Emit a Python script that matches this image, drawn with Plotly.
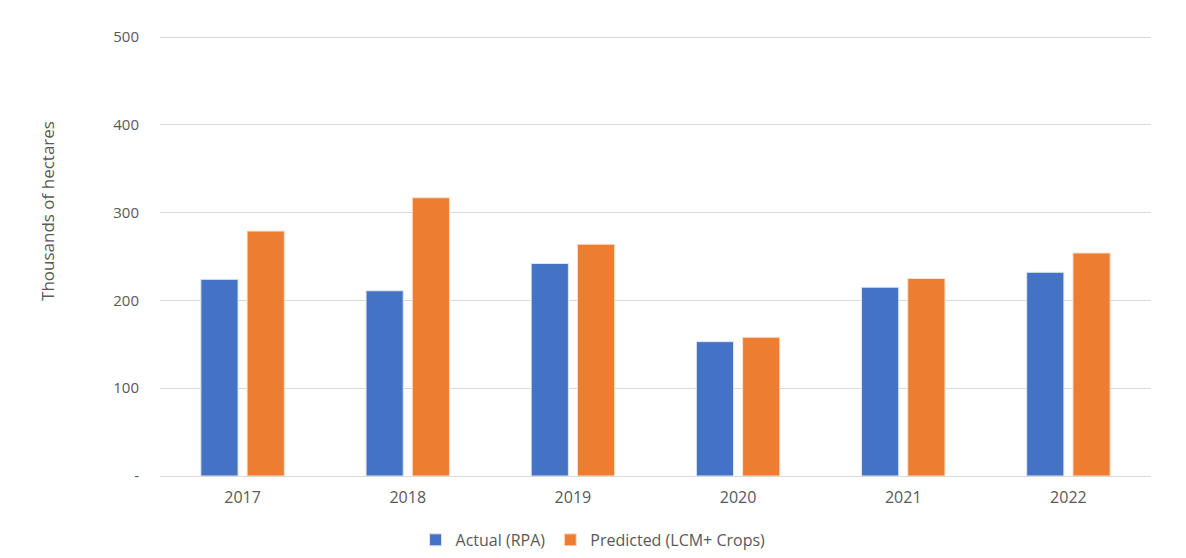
import plotly.graph_objects as go

years = ["2017", "2018", "2019", "2020", "2021", "2022"]
actual = [224, 211, 242, 153, 215, 232]
predicted = [279, 317, 264, 158, 225, 254]
ytick_vals = [0, 100, 200, 300, 400, 500]
ytick_text = ["-", "100", "200", "300", "400", "500"]

FAM = "Open Sans, Liberation Sans, sans-serif"
GREY = "#595959"

def f(size):
    return dict(family=FAM, size=size, color=GREY)

fig = go.Figure()
fig.add_trace(go.Bar(x=years, y=actual, name="Actual (RPA)",
                     marker=dict(color="#4472C4", line=dict(color="#dfe6f5", width=1))))
fig.add_trace(go.Bar(x=years, y=predicted, name="Predicted (LCM+ Crops)",
                     marker=dict(color="#ED7D31", line=dict(color="#fbe0cf", width=1))))

fig.update_layout(
    width=1178, height=550,
    margin=dict(l=152, r=35, t=27, b=82, autoexpand=False),
    paper_bgcolor="white", plot_bgcolor="white",
    font=f(15),
    barmode="group", bargap=0.44, bargroupgap=0.196,
    legend=dict(orientation="h", x=0.437, xanchor="center", y=-0.145, yanchor="middle",
                font=f(16), itemwidth=30, traceorder="normal"),
    xaxis=dict(showgrid=False, showline=False, ticks="", tickfont=f(16),
               ticklabelstandoff=10, automargin=False),
    yaxis=dict(range=[0, 502.3], tickvals=ytick_vals, ticktext=ytick_text,
               showgrid=True, gridcolor="#d9d9d9", gridwidth=1, zeroline=True,
               zerolinecolor="#d9d9d9", zerolinewidth=1, showline=False, ticks="",
               ticklabelstandoff=20, tickfont=f(15), automargin=False),
    annotations=[dict(text="Thousands of hectares", textangle=-90, xref="paper", yref="paper",
                      x=-0.113, y=0.601, xanchor="center", yanchor="middle",
                      showarrow=False, font=f(17))],
)

fig.write_html("out.html")
